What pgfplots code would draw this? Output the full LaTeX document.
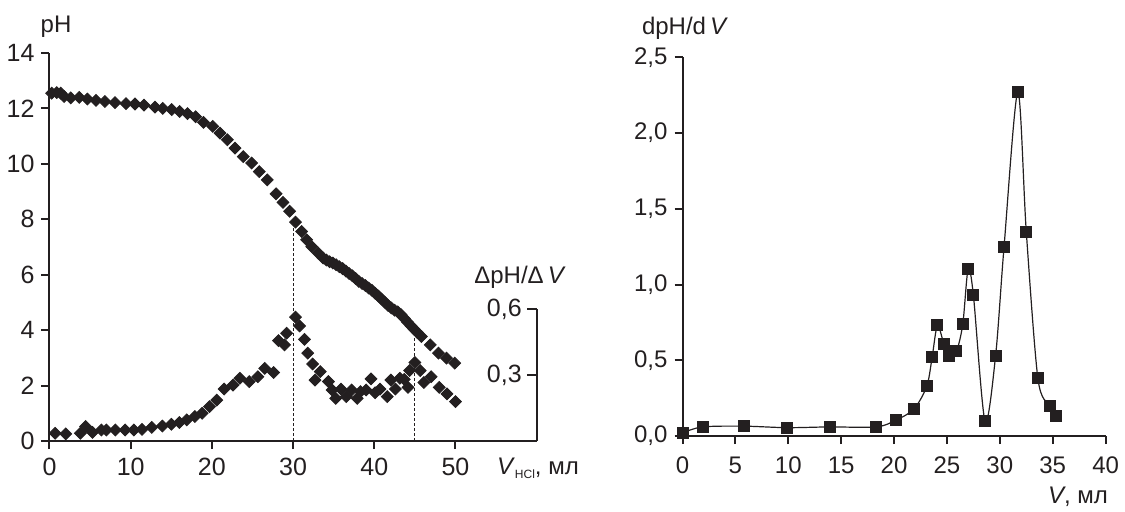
\documentclass[border=0pt]{standalone}
\usepackage{fontspec}
\setmainfont{Liberation Sans}
\usepackage{pgfplots}
\pgfplotsset{compat=1.18}
\definecolor{ink}{HTML}{231F20}

\begin{document}
\begin{tikzpicture}
\useasboundingbox (0,0) rectangle (562.5pt,255.5pt);
\pgfplotsset{
  base/.style={scale only axis, clip=false,
    axis x line*=bottom, axis y line*=left,
    axis line style={line width=1pt, ink, -},
    tick style={line width=1pt, ink}, major tick length=4pt, tick align=outside,
    /pgf/number format/assume math mode=true,
    tick label style={text=ink}},
}

% titration curve pH(V)
\begin{axis}[base, at={(24.75pt,35pt)}, anchor=south west,
  width=243.6pt, height=194pt,
  xmin=0, xmax=60, ymin=0, ymax=14,
  xtick={0,10,20,30,40,50}, ytick={0,2,4,6,8,10,12,14},
  tick label style={font=\fontsize{12.5}{12.5}\selectfont},
  xticklabel style={yshift=-1pt}]
\addplot[only marks, mark=square*, mark size=2.1pt,
  mark options={rotate=45, draw=ink, fill=ink}] coordinates {
(0.27,12.55)(0.88,12.57)(1.38,12.55)(1.79,12.43)(2.61,12.38)(3.67,12.40)
(4.66,12.34)(5.73,12.29)(6.83,12.25)(8.07,12.21)(9.42,12.17)(10.53,12.16)
(11.64,12.12)(12.99,12.05)(13.94,12.00)(15.05,11.96)(16.03,11.89)(17.0,11.81)
(18.0,11.70)(18.97,11.50)(20.1,11.35)(21.0,11.11)(21.9,10.87)(22.85,10.57)
(23.87,10.26)(24.9,10.03)(25.84,9.72)(26.82,9.42)(27.9,8.92)(28.75,8.61)
(29.57,8.29)(30.3,7.9)(31.06,7.56)(31.67,7.26)(32.3,7.01)(33.1,6.78)
(33.7,6.60)(34.1,6.53)(34.5,6.47)(34.9,6.42)(35.3,6.36)(35.7,6.29)
(36.1,6.22)(36.5,6.13)(36.9,6.04)(37.3,5.96)(37.7,5.86)(38.1,5.76)
(38.5,5.68)(38.9,5.61)(39.3,5.52)(39.7,5.44)(40.1,5.33)(40.5,5.23)
(40.9,5.12)(41.3,5.01)(41.7,4.89)(42.1,4.80)(42.5,4.72)(42.9,4.66)
(43.3,4.56)(43.7,4.42)(44.1,4.29)(44.5,4.16)(44.9,4.03)(45.3,3.92)
(45.8,3.77)(46.9,3.47)(47.9,3.17)(48.9,2.99)(49.9,2.81)
};
\draw[ink, line width=0.5pt, dash pattern=on 1.5pt off 1pt] (axis cs:30,0) -- (axis cs:30,7.95);
\draw[ink, line width=0.5pt, dash pattern=on 1.5pt off 1pt] (axis cs:45,0) -- (axis cs:45,3.85);
\end{axis}

% first derivative dpH/dV, right scale
\begin{axis}[at={(24.75pt,35pt)}, anchor=south west, scale only axis,
  width=243.6pt, height=194pt, axis lines=none, clip=false,
  xmin=0, xmax=60, ymin=0, ymax=1.763]
\addplot[only marks, mark=square*, mark size=2.1pt,
  mark options={rotate=45, draw=ink, fill=ink}] coordinates {
(0.7,0.035)(2.0,0.032)(3.8,0.035)(4.45,0.066)(5.3,0.039)(6.4,0.050)
(7.0,0.050)(8.1,0.050)(9.3,0.050)(10.4,0.050)(11.4,0.053)(12.6,0.062)
(13.9,0.068)(15.0,0.076)(16.0,0.084)(16.9,0.096)(17.9,0.111)(18.8,0.126)
(19.7,0.156)(20.6,0.186)(21.5,0.236)(22.6,0.254)(23.45,0.285)(24.6,0.270)
(25.65,0.292)(26.5,0.330)(27.6,0.311)(28.2,0.456)(28.95,0.437)(29.2,0.490)
(30.3,0.563)(30.8,0.523)(31.4,0.462)(31.8,0.399)(32.4,0.350)(32.7,0.277)
(33.35,0.315)(34.35,0.270)(34.8,0.232)(35.25,0.194)(35.9,0.236)(36.55,0.202)
(37.2,0.232)(37.9,0.194)(38.3,0.224)(39.0,0.232)(39.6,0.282)(40.1,0.219)
(40.7,0.236)(41.6,0.202)(42.05,0.277)(42.6,0.236)(43.15,0.285)(43.7,0.280)
(44.15,0.244)(44.35,0.320)(45.0,0.357)(45.65,0.320)(46.1,0.266)(47.0,0.292)
(48.0,0.244)(48.95,0.214)(50.0,0.179)
};
\draw[ink, line width=1pt] (axis cs:60,0) -- (axis cs:60,0.6);
\draw[ink, line width=1pt] (axis cs:60,0.3) -- ++(-5pt,0)
  node[left, inner sep=2pt, font=\fontsize{12.5}{12.5}\selectfont, text=ink] {0,3};
\draw[ink, line width=1pt] (axis cs:60,0.6) -- ++(-5pt,0)
  node[left, inner sep=2pt, font=\fontsize{12.5}{12.5}\selectfont, text=ink] {0,6};
\end{axis}

% smoothed derivative curve
\begin{axis}[base, at={(341.25pt,37.5pt)}, anchor=south west,
  width=211.55pt, height=189.35pt,
  xmin=0, xmax=40, ymin=0, ymax=2.5,
  xtick={0,5,10,15,20,25,30,35,40}, ytick={0,0.5,1,1.5,2,2.5},
  yticklabels={{0,0},{0,5},{1,0},{1,5},{2,0},{2,5}},
  tick label style={font=\fontsize{12}{12}\selectfont},
  xticklabel style={yshift=-3pt}]
\addplot[smooth, line width=0.6pt, ink, mark=square*, mark size=2.7pt,
  mark options={draw=ink, fill=ink}] coordinates {
(0,0.02)(1.9,0.06)(5.8,0.065)(9.9,0.055)(13.9,0.06)(18.3,0.06)
(20.2,0.105)(21.9,0.18)(23.1,0.33)(23.6,0.52)(24.1,0.73)(24.7,0.61)
(25.2,0.53)(25.9,0.56)(26.5,0.74)(27.0,1.10)(27.5,0.93)(28.6,0.10)
(29.6,0.53)(30.4,1.25)(31.7,2.27)(32.5,1.35)(33.6,0.38)(34.7,0.20)
(35.3,0.13)
};
\end{axis}

\node[text=ink, font=\fontsize{12}{12}\selectfont] at (28pt,242pt) {pH};
\node[text=ink, font=\fontsize{12}{12}\selectfont] at (260pt,117pt) {ΔpH/Δ\,\textit{V}};
\node[text=ink, font=\fontsize{12}{12}\selectfont, anchor=base west] at (245pt,18.5pt)
  {\textit{V}\raisebox{-2pt}{\fontsize{6}{6}\selectfont HCl}, мл};
\node[text=ink, font=\fontsize{12}{12}\selectfont] at (342.5pt,241.5pt) {dpH/d\,\textit{V}};
\node[text=ink, font=\fontsize{12}{12}\selectfont, anchor=east] at (557.5pt,7pt) {\textit{V}, мл};
\end{tikzpicture}
\end{document}
